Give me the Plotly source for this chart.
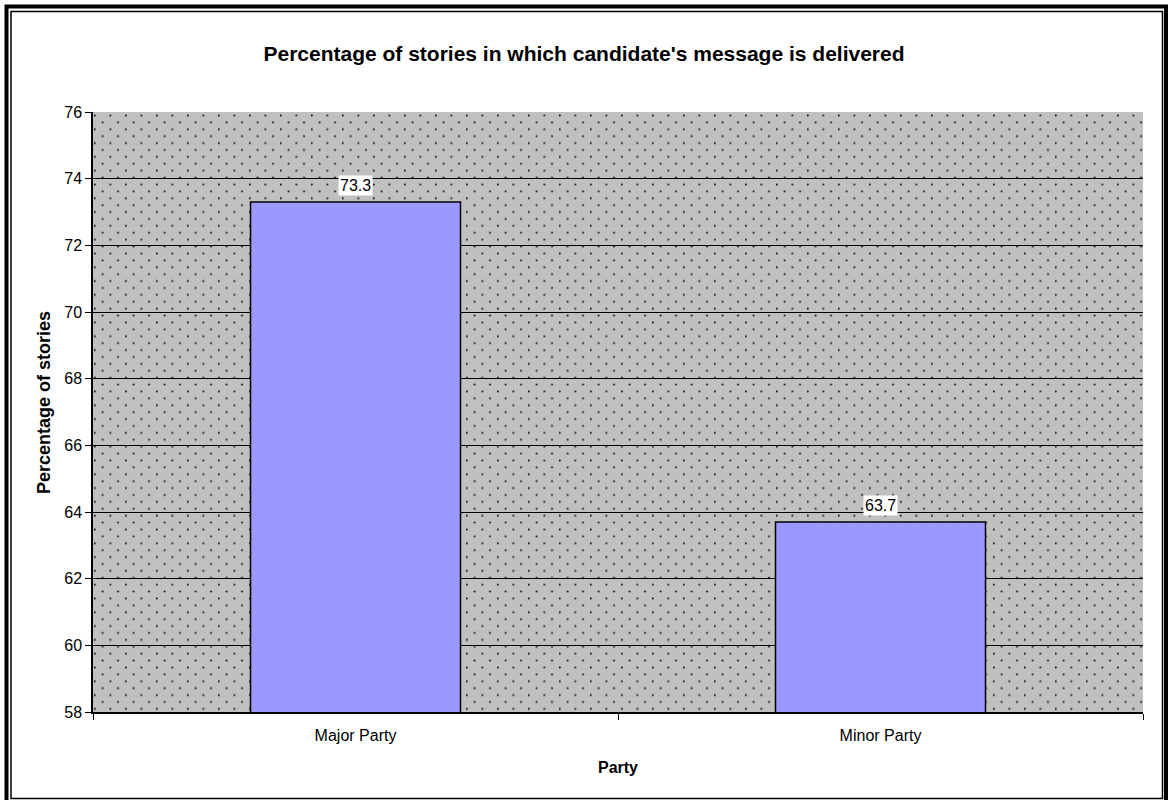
import base64
import plotly.graph_objects as go

# Chart data
parties = ["Major Party", "Minor Party"]
pct_message_delivered = [73.3, 63.7]
y_ticks = [58, 60, 62, 64, 66, 68, 70, 72, 74, 76]

W, H = 1168, 800
PL, PR, PT, PB = 93, 1143, 112, 712  # plot area in pixels
PW, PH = PR - PL, PB - PT


def px_x(p):
    return (p - PL) / PW


def px_y(p):
    return (PB - p) / PH


# Dotted gray fill for the plot area (staggered dot grid)
pw, ph = 15.5, 13.8
svg = f"""<svg xmlns='http://www.w3.org/2000/svg' width='{PW}' height='{PH}'>
<defs><pattern id='d' x='1' y='0' width='{pw}' height='{ph}' patternUnits='userSpaceOnUse'>
<circle cx='0.8' cy='3.4' r='1.0' fill='#111111'/>
<circle cx='{pw/2+0.8}' cy='{3.4+ph/2}' r='1.0' fill='#111111'/>
</pattern></defs>
<rect width='{PW}' height='{PH}' fill='#c0c0c0'/>
<rect width='{PW}' height='{PH}' fill='url(#d)'/>
</svg>"""
svg_uri = "data:image/svg+xml;base64," + base64.b64encode(svg.encode()).decode()

FONT = "Liberation Sans, Arial, sans-serif"

fig = go.Figure(
    go.Bar(
        x=parties,
        y=pct_message_delivered,
        marker=dict(color="#9999ff", line=dict(color="black", width=1.5)),
        width=0.4,
        hoverinfo="x+y",
    )
)

# Value labels in white boxes above each bar
for name, v in zip(parties, pct_message_delivered):
    fig.add_annotation(
        x=name, y=v, text=f"{v:.1f}", showarrow=False,
        yanchor="bottom", yshift=6, bgcolor="white",
        font=dict(family=FONT, size=16, color="black"), borderpad=1,
    )

# Vertical axis title
fig.add_annotation(
    xref="paper", yref="paper", x=px_x(44), y=px_y(403),
    text="<b>Percentage of stories</b>", textangle=-90, showarrow=False,
    xanchor="center", yanchor="middle",
    font=dict(family=FONT, size=18, color="black"),
)

# Double frame around the whole chart
shapes = [
    dict(type="rect", xref="paper", yref="paper",
         x0=px_x(6.5), x1=px_x(1166), y0=px_y(6.5), y1=px_y(806),
         line=dict(color="black", width=4)),
    dict(type="rect", xref="paper", yref="paper",
         x0=px_x(11), x1=px_x(1162.5), y0=px_y(11.5), y1=px_y(798.5),
         line=dict(color="black", width=1.5)),
]

fig.update_layout(
    width=W, height=H,
    margin=dict(l=PL, r=W - PR, t=PT, b=H - PB),
    paper_bgcolor="white",
    plot_bgcolor="rgba(0,0,0,0)",
    showlegend=False,
    font=dict(family=FONT, size=16, color="black"),
    title=dict(
        text="<b>Percentage of stories in which candidate's message is delivered</b>",
        x=0.5, xref="container", xanchor="center",
        y=1 - 54 / H, yanchor="middle",
        font=dict(family=FONT, size=21, color="black"),
    ),
    images=[dict(source=svg_uri, xref="paper", yref="paper", x=0, y=1,
                 sizex=1, sizey=1, sizing="stretch", layer="below",
                 xanchor="left", yanchor="top")],
    shapes=shapes,
    xaxis=dict(
        showline=True, linecolor="black", linewidth=1.5,
        ticks="outside", ticklen=6, tickcolor="black", tickson="boundaries",
        tickfont=dict(family=FONT, size=16), ticklabelstandoff=8,
        showgrid=False,
        title=dict(text="<b>Party</b>", font=dict(family=FONT, size=16), standoff=19),
    ),
    yaxis=dict(
        range=[58, 76], tickvals=y_ticks,
        showline=True, linecolor="black", linewidth=1.5,
        ticks="outside", ticklen=6, tickcolor="black",
        showgrid=True, gridcolor="black", gridwidth=1, zeroline=False,
        tickfont=dict(family=FONT, size=16),
    ),
)

fig.write_html("out.html")
